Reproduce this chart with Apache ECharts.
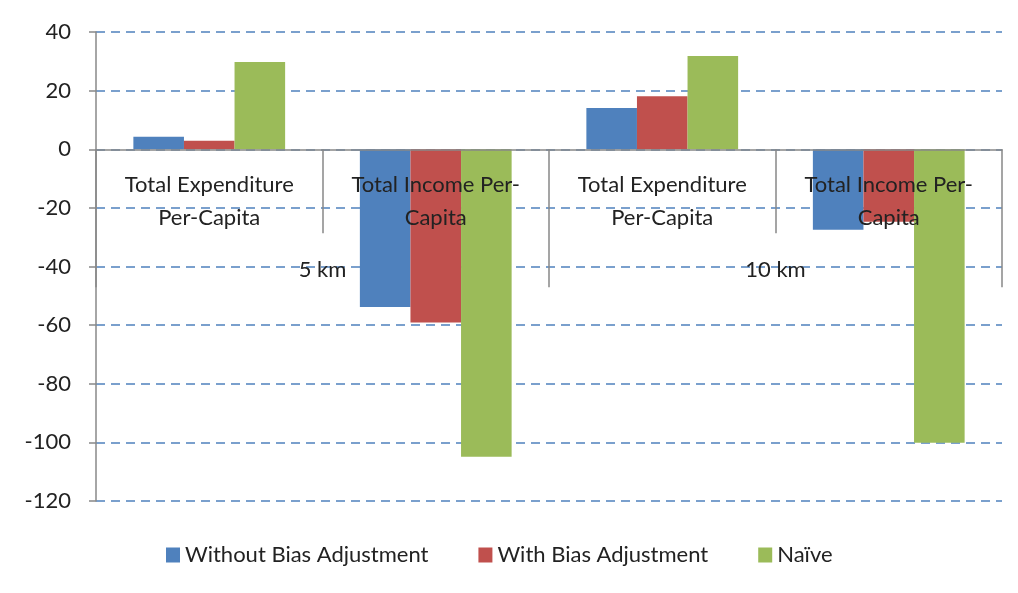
<!DOCTYPE html>
<html>
<head>
<meta charset="utf-8">
<script src="https://cdn.jsdelivr.net/npm/echarts@6/dist/echarts.min.js"></script>
<style>
  html, body { margin: 0; padding: 0; background: #fff; }
  #chart { width: 1018px; height: 593px; }
</style>
</head>
<body>
<div id="chart"></div>
<script>
// categories (inner level) and groups (outer level)
var categories = ['Total Expenditure\nPer-Capita', 'Total Income Per-\nCapita', 'Total Expenditure\nPer-Capita', 'Total Income Per-\nCapita']
var groups = ['5 km', '10 km']

// series values
var withoutBias = [4.3, -53.8, 14.1, -27.5]
var withBias = [2.9, -59.1, 18.1, -24.7]
var naive = [29.8, -104.9, 31.8, -100.1]

var seriesNames = ['Without Bias Adjustment', 'With Bias Adjustment', 'Naïve']
var colors = ['#4F81BD', '#C0504D', '#9BBB59']

var yMin = -120, yMax = 40, yStep = 20

var font = 'Lato, "Noto Sans", sans-serif'
var gridTop = 32, gridBottom = 92, chartHeight = 593
// move the category axes up onto the zero line (labels follow the axis)
var zeroOffset = -(chartHeight - gridTop - gridBottom) * (0 - yMin) / (yMax - yMin)

var chart = echarts.init(document.getElementById('chart'))

chart.setOption({
  backgroundColor: '#FFFFFF',
  animation: false,
  color: colors,
  textStyle: { fontFamily: font },
  legend: {
    data: seriesNames,
    bottom: 22,
    left: 161,
    itemWidth: 14,
    itemHeight: 15,
    itemGap: 50,
    icon: 'rect',
    textStyle: { fontSize: 22, color: '#222', fontFamily: font }
  },
  grid: { left: 96, right: 16, top: gridTop, bottom: gridBottom, outerBoundsMode: 'none' },
  xAxis: [
    {
      type: 'category',
      data: categories,
      position: 'bottom',
      offset: zeroOffset,
      z: 5,
      axisLine: { onZero: false, lineStyle: { color: '#888', width: 1.5 } },
      axisTick: { show: true, length: 84, lineStyle: { color: '#888', width: 1.5 } },
      axisLabel: {
        interval: 0,
        margin: 19,
        fontSize: 22,
        lineHeight: 33,
        color: '#222',
        fontFamily: font
      }
    },
    {
      type: 'category',
      data: groups,
      position: 'bottom',
      offset: zeroOffset,
      z: 5,
      axisLine: { onZero: false, show: false },
      axisTick: { show: true, length: 138, lineStyle: { color: '#888', width: 1.5 } },
      axisLabel: {
        interval: 0,
        margin: 110,
        fontSize: 22,
        color: '#222',
        fontFamily: font
      }
    }
  ],
  yAxis: {
    type: 'value',
    min: yMin,
    max: yMax,
    interval: yStep,
    axisLine: { show: true, lineStyle: { color: '#888', width: 1.5 } },
    axisTick: { show: true, length: 7, lineStyle: { color: '#888', width: 1.5 } },
    axisLabel: { margin: 25, fontSize: 22, color: '#222', fontFamily: font },
    splitLine: {
      show: true,
      lineStyle: { color: '#4F81BD', type: [9, 6], width: 1.5 }
    }
  },
  series: [
    { name: seriesNames[0], type: 'bar', data: withoutBias, barGap: 0, barCategoryGap: '33%' },
    { name: seriesNames[1], type: 'bar', data: withBias, barGap: 0, barCategoryGap: '33%' },
    { name: seriesNames[2], type: 'bar', data: naive, barGap: 0, barCategoryGap: '33%' }
  ]
})
</script>
</body>
</html>
